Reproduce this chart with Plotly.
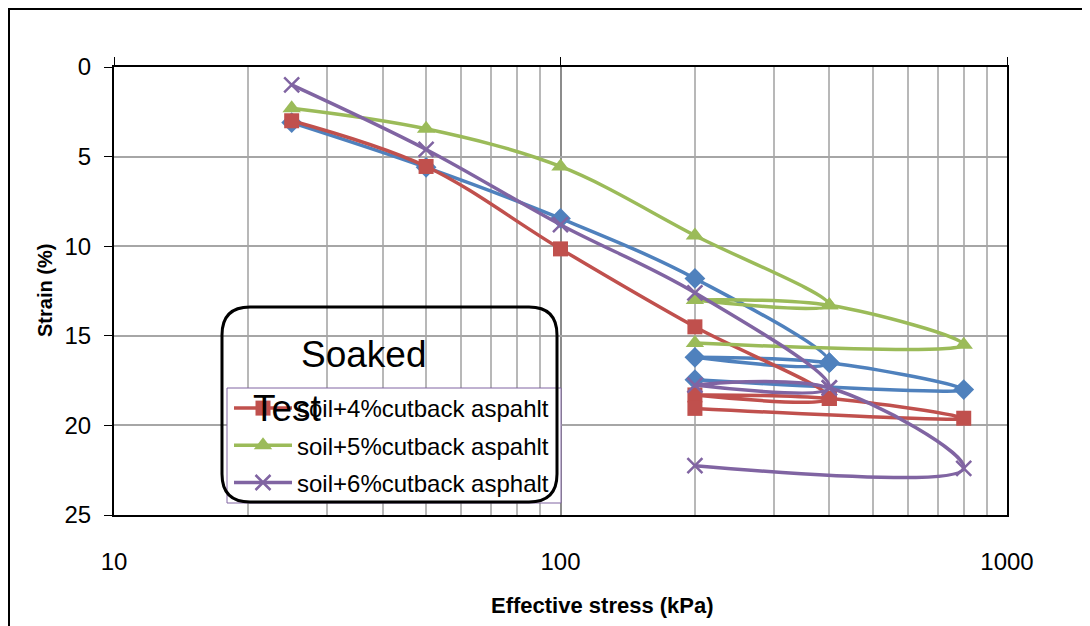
import plotly.graph_objects as go

# ---------------- data ----------------
stress = [25, 50, 100, 200, 400, 200, 400, 800, 200]
strain_soil = [3.1, 5.6, 8.45, 11.8, 16.5, 16.2, 16.5, 18.0, 17.45]
strain_4 = [3.0, 5.55, 10.15, 14.5, 18.5, 18.3, 18.5, 19.6, 19.05]
strain_5 = [2.3, 3.45, 5.55, 9.4, 13.3, 13.0, 13.3, 15.5, 15.4]
strain_6 = [1.0, 4.6, 8.8, 12.6, 17.9, 17.75, 17.9, 22.4, 22.25]
names = ["soil", "soil+4%cutback aspahlt", "soil+5%cutback aspahlt", "soil+6%cutback asphalt"]
x_ticks = [10, 100, 1000]
y_ticks = [0, 5, 10, 15, 20, 25]

FONT = "Liberation Sans, Arial, sans-serif"
OFF = 8                      # page body margin
W, H = 1090 - OFF, 626 - OFF
# plot area in screen pixels
SL, SR, ST, SB = 114, 1007, 67, 515
L, R, T, B = SL - OFF, SR - OFF, ST - OFF, SB - OFF

def px(xs):
    return (xs - SL) / (SR - SL)

def py(ys):
    return (SB - ys) / (SB - ST)

fig = go.Figure()

series = [
    (strain_soil, "#4F81BD", "diamond", 16, False),
    (strain_4, "#C0504D", "square", 15, True),
    (strain_5, "#9BBB59", "triangle-up", 16, True),
    (strain_6, "#8064A2", "x-thin", 15, True),
]
for i, (ys, col, sym, ms, show) in enumerate(series):
    mk = dict(symbol=sym, size=ms, color=col)
    if sym == "x-thin":
        mk["line"] = dict(color=col, width=2.5)
    fig.add_trace(go.Scatter(
        x=stress, y=ys, name=names[i], mode="lines+markers",
        line=dict(color=col, width=3.5, shape="spline", smoothing=1.0),
        marker=mk, showlegend=show, legendgroup=names[i],
    ))

# empty trace to host the bottom label axis
fig.add_trace(go.Scatter(x=[], y=[], xaxis="x2", showlegend=False, hoverinfo="skip"))

shapes = []
# outer chart border
shapes.append(dict(type="rect", xref="paper", yref="paper",
                   x0=px(OFF + 1), x1=px(1300), y0=py(OFF + 1), y1=py(900),
                   line=dict(color="black", width=2), fillcolor="rgba(0,0,0,0)", layer="above"))
# legend background + border
lx0, lx1, ly0, ly1 = 227, 561, 388, 503
shapes.append(dict(type="rect", xref="paper", yref="paper",
                   x0=px(lx0), x1=px(lx1), y0=py(ly0), y1=py(ly1),
                   line=dict(color="#8064A2", width=1), fillcolor="white", layer="above"))
# rounded text box
bx0, bx1, by0, by1, r = 222, 557, 307, 502, 28
pts = [
    ("M", bx0 + r, by0), ("L", bx1 - r, by0), ("Q", bx1, by0, bx1, by0 + r),
    ("L", bx1, by1 - r), ("Q", bx1, by1, bx1 - r, by1), ("L", bx0 + r, by1),
    ("Q", bx0, by1, bx0, by1 - r), ("L", bx0, by0 + r), ("Q", bx0, by0, bx0 + r, by0),
]
path = ""
for p in pts:
    cmd = p[0]
    coords = p[1:]
    seg = []
    for j in range(0, len(coords), 2):
        seg.append(f"{px(coords[j]):.5f},{py(coords[j+1]):.5f}")
    path += cmd + " ".join(seg) + " "
path += "Z"
shapes.append(dict(type="path", xref="paper", yref="paper", path=path,
                   line=dict(color="black", width=3), fillcolor="rgba(0,0,0,0)", layer="above"))

annotations = [
    dict(text="Soaked", x=px(364), y=py(354), xref="paper", yref="paper", showarrow=False,
         font=dict(family=FONT, size=37, color="black"), xanchor="center", yanchor="middle"),
    dict(text="Test", x=px(251), y=py(408), xref="paper", yref="paper", showarrow=False,
         font=dict(family=FONT, size=37, color="black"), xanchor="left", yanchor="middle"),
    dict(text="<b>Strain (%)</b>", x=px(45), y=py(291), xref="paper", yref="paper", showarrow=False,
         textangle=-90, font=dict(family=FONT, size=20, color="black"), xanchor="center", yanchor="middle"),
    dict(text="<b>Effective stress (kPa)</b>", x=px(602), y=py(605), xref="paper", yref="paper",
         showarrow=False, font=dict(family=FONT, size=22, color="black"), xanchor="center", yanchor="middle"),
]

fig.update_layout(
    width=W, height=H,
    margin=dict(l=L, r=W - R, t=T, b=H - B),
    paper_bgcolor="white", plot_bgcolor="white",
    font=dict(family=FONT, color="black"),
    shapes=shapes, annotations=annotations,
    legend=dict(x=px(221 + OFF), y=py(386), xanchor="left", yanchor="top",
                bgcolor="rgba(0,0,0,0)", borderwidth=0,
                font=dict(family=FONT, size=24, color="black"),
                itemwidth=58, tracegroupgap=3),
    xaxis=dict(type="log", range=[1, 3], side="top", showticklabels=False,
               ticks="outside", ticklen=8, tickcolor="black", tickwidth=1,
               tickvals=x_ticks,
               showline=True, linecolor="black", linewidth=2, mirror=True,
               showgrid=True, gridcolor="#8C8C8C", gridwidth=1.5,
               minor=dict(dtick="D1", showgrid=True, gridcolor="#B8B8B8", gridwidth=1.5, ticks=""),
               zeroline=False),
    xaxis2=dict(type="log", range=[1, 3], overlaying="x", side="bottom", anchor="y",
                tickvals=x_ticks, ticktext=[str(v) for v in x_ticks],
                ticks="", showline=False, showgrid=False, zeroline=False,
                tickfont=dict(family=FONT, size=24, color="black"), ticklabelstandoff=30),
    yaxis=dict(range=[25, 0], tickvals=y_ticks, ticks="outside", ticklen=8,
               tickcolor="black", tickwidth=1,
               showline=True, linecolor="black", linewidth=2, mirror=True,
               showgrid=True, gridcolor="#A6A6A6", gridwidth=1.5, zeroline=False,
               tickfont=dict(family=FONT, size=24, color="black"), ticklabelstandoff=8),
    showlegend=True,
)

fig.write_html("out.html")
